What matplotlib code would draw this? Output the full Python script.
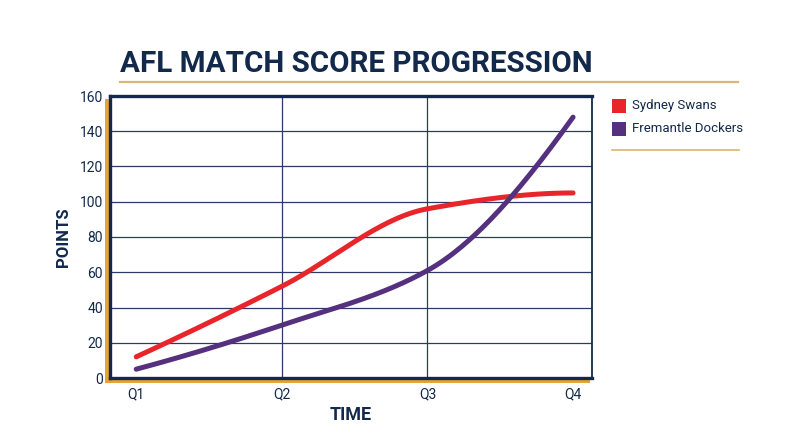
import numpy as np
import matplotlib.pyplot as plt
from matplotlib.patches import Rectangle
from matplotlib.lines import Line2D

plt.rcParams['font.family'] = ['Roboto', 'DejaVu Sans']

quarters = ['Q1', 'Q2', 'Q3', 'Q4']
sydney = [12, 52, 96, 105]
fremantle = [5, 30, 61, 148]
yticks = [0, 20, 40, 60, 80, 100, 120, 140, 160]

NAVY = '#13294B'
GRID = '#2B3A66'
GOLD = '#D9B673'
ORANGE = '#E9A23B'
RED = '#E8252B'
PURPLE = '#55307F'


def pchip(xs, ys, n=60):
    # shape preserving cubic (harmonic mean slopes)
    xs = np.asarray(xs, float)
    ys = np.asarray(ys, float)
    h = np.diff(xs)
    s = np.diff(ys) / h
    m = np.zeros(len(xs))
    for i in range(1, len(xs) - 1):
        if s[i - 1] * s[i] > 0:
            w1 = 2 * h[i] + h[i - 1]
            w2 = h[i] + 2 * h[i - 1]
            m[i] = (w1 + w2) / (w1 / s[i - 1] + w2 / s[i])
    for i, j, k in [(0, 0, 1), (-1, -1, -2)]:
        d = (3 * s[j] - s[k]) / 2
        if np.sign(d) != np.sign(s[j]):
            d = 0
        m[i] = d
    px, py = [], []
    for i in range(len(xs) - 1):
        t = np.linspace(0, 1, n)
        h00 = 2 * t**3 - 3 * t**2 + 1
        h10 = t**3 - 2 * t**2 + t
        h01 = -2 * t**3 + 3 * t**2
        h11 = t**3 - t**2
        px.extend(xs[i] + t * h[i])
        py.extend(h00 * ys[i] + h10 * h[i] * m[i] + h01 * ys[i + 1] + h11 * h[i] * m[i + 1])
    return np.array(px), np.array(py)


W, H = 800, 447
fig = plt.figure(figsize=(8, 4.47), dpi=100)

# axes box in pixel coordinates
L, R, T, B = 110, 592, 96, 378
ax = fig.add_axes([L / W, 1 - B / H, (R - L) / W, (B - T) / H])
ax.set_zorder(2)

# orange shadow behind the plot box
fig.patches.append(Rectangle(((L - 5) / W, 1 - (B + 5) / H), (R - 2 - L + 5) / W, (B + 5 - T - 3) / H,
                             transform=fig.transFigure, facecolor=ORANGE, edgecolor='none', zorder=1))

xpos = np.arange(len(quarters))
for vals, col in [(sydney, RED), (fremantle, PURPLE)]:
    cx, cy = pchip(xpos, vals)
    ax.plot(cx, cy, color=col, lw=3.6, solid_capstyle='round', zorder=3)

ax.set_xlim(-0.18, 3.13)
ax.set_ylim(0, 160)
ax.set_yticks(yticks)
ax.set_xticks(xpos)
ax.set_xticklabels(quarters)
ax.yaxis.grid(True, color=GRID, lw=0.9)
for x in xpos[1:-1]:
    ax.axvline(x, color=GRID, lw=0.9, zorder=1)
ax.set_axisbelow(True)
ax.tick_params(length=0, labelsize=10, colors=NAVY, pad=5)
ax.tick_params(axis='x', pad=7)

for side in ['left', 'bottom', 'top']:
    ax.spines[side].set_color(NAVY)
    ax.spines[side].set_linewidth(2.4)
ax.spines['right'].set_color(NAVY)
ax.spines['right'].set_linewidth(1.3)

ax.set_xlabel('TIME', fontsize=13, fontweight='bold', color=NAVY, labelpad=3)
ax.set_ylabel('POINTS', fontsize=12, fontweight='bold', color=NAVY, labelpad=6)

# title and its underline
fig.text(120 / W, 1 - 72 / H, 'AFL MATCH SCORE PROGRESSION', fontsize=21.3, fontweight='bold',
         color=NAVY, ha='left', va='baseline')
fig.add_artist(Line2D([120 / W, 738 / W], [1 - 82 / H, 1 - 82 / H], color=GOLD, lw=1.6))

# legend
for i, (name, col) in enumerate([('Sydney Swans', RED), ('Fremantle Dockers', PURPLE)]):
    yc = 106 + i * 23
    fig.patches.append(Rectangle((612 / W, 1 - (yc + 7) / H), 14 / W, 14 / H,
                                 transform=fig.transFigure, facecolor=col, edgecolor='none'))
    fig.text(632 / W, 1 - yc / H, name, fontsize=9.5, color=NAVY, ha='left', va='center')
fig.add_artist(Line2D([612 / W, 739 / W], [1 - 150 / H, 1 - 150 / H], color=GOLD, lw=1.2))

fig.savefig('out.png', dpi=100, facecolor='white')
